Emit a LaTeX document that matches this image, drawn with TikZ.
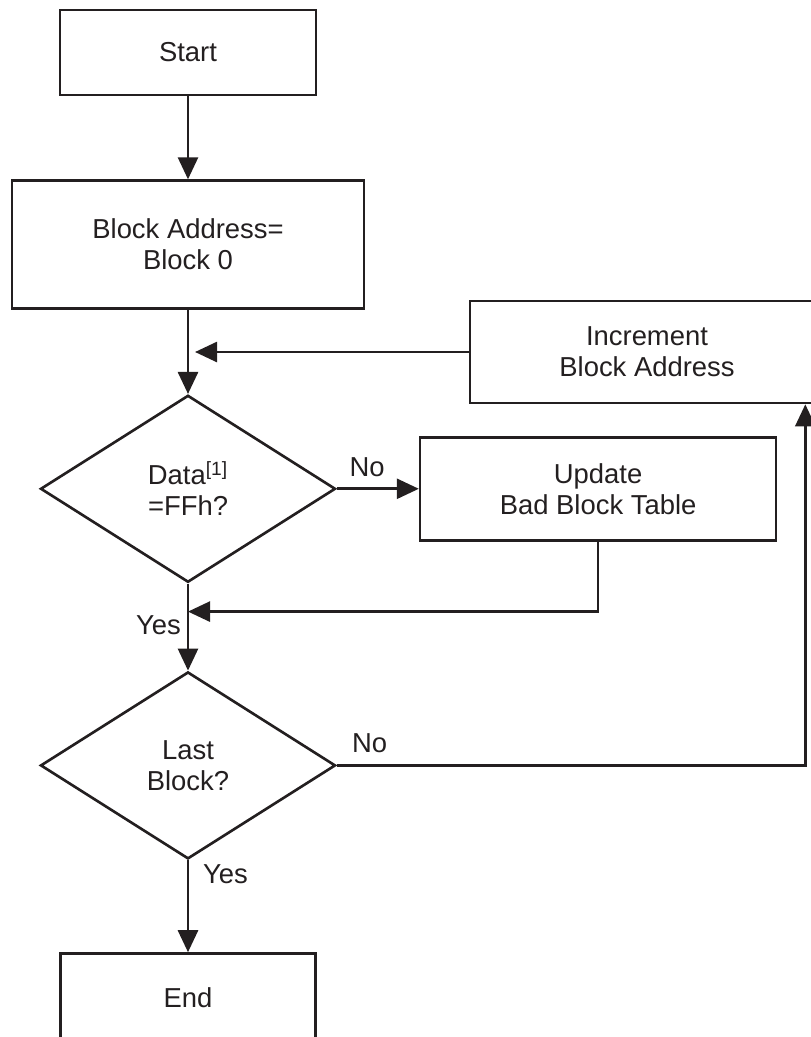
\documentclass[tikz,border=0pt]{standalone}
\usepackage{fontspec}
\setmainfont{Liberation Sans}
\usepackage{tikz}
\usetikzlibrary{positioning,calc,shapes,arrows.meta}
\definecolor{ink}{RGB}{35,31,32}
\tikzset{
  box/.style args={#1,#2}{
    rectangle,
    draw=ink,
    line width=1.5pt,
    align=center,
    minimum width=#1 cm,
    minimum height=#2 cm,
  },
  decision/.style={
    diamond,
    draw=ink,
    line width=1.5pt,
    align=center,
    inner sep=0pt,
    minimum width=5.9cm,
    minimum height=3.74cm,
  },
  lbl/.style={text=ink}
}

\begin{document}
\begin{tikzpicture}[->,>={Triangle[length=0.44cm,width=0.4cm]},
  ink,line width=1.5pt,
  every node/.style={font=\fontsize{15.6}{17.6}\selectfont}]
    \useasboundingbox (0,0) rectangle (16.22,-20.74);
    \clip (0,0) rectangle (16.22,-20.74);
    \node [box={5.12,1.7}] (start) at (3.76,-1.05) {Start};
    \node [box={7.04,2.56},below=1.66cm of start] (addr) {Block Address=\\Block 0};
    \node [decision,below=1.68cm of addr] (data) {Data\textsuperscript{[1]}\\=FFh?};
    \node [box={7.12,2.06},right=1.64cm of data] (upd) {Update\\Bad Block Table};
    \node [box={7.08,2.04}] (incr) at (12.94,-7.04) {Increment\\Block Address};
    \node [decision,below=1.74cm of data] (last) {Last\\Block?};
    \node [box={5.1,1.76},below=1.84cm of last] (end) {End};
    \coordinate (j1) at ($(upd.south)+(0,-1.4)$);
    \coordinate (c1) at ($(incr.south east)+(-0.4,0)$);
      \draw (start) -- (addr);
      \draw (addr) -- (data);
      \draw (incr.west) -- ([xshift=4pt]addr.south |- incr.west);
      \draw (data.east) -- node[lbl,above=0.1cm,pos=0.37]{No} (upd.west);
      \draw (upd.south) -- (j1) -- (data.south |- j1);
      \draw (data.south) -- node[lbl,left,pos=0.48]{Yes} (last.north);
      \draw (last.east) -- node[lbl,above=0.1cm,pos=0.07]{No} (last.east -| c1) -- (c1);
      \draw (last.south) -- node[lbl,right=0.16cm,pos=0.15]{Yes} (end.north);
    \end{tikzpicture}
\end{document}
